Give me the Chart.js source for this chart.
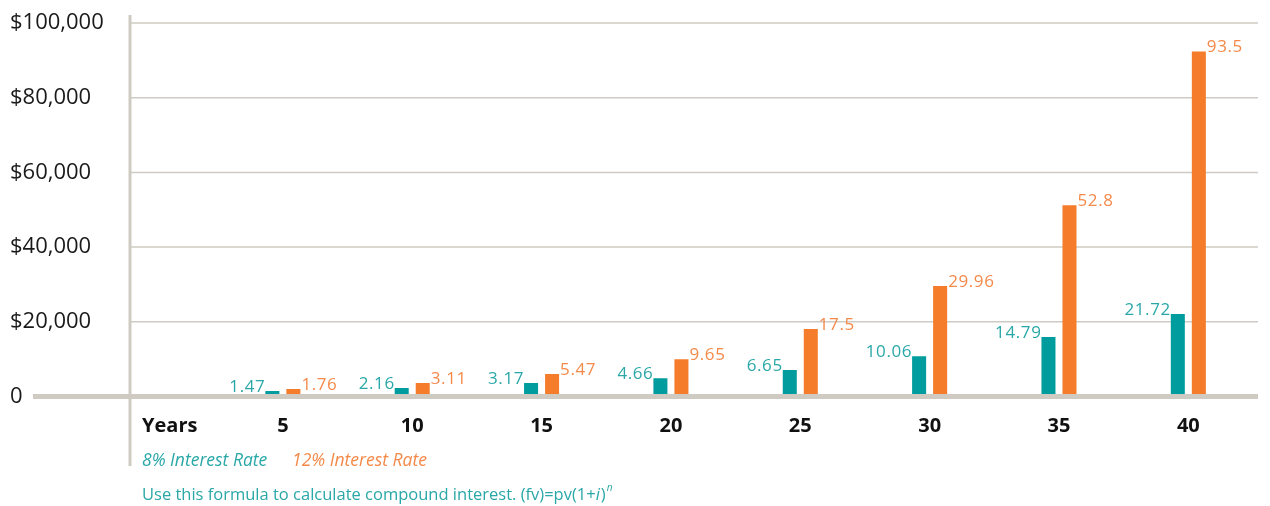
<!DOCTYPE html>
<html>
<head>
<meta charset="utf-8">
<script src="https://cdn.jsdelivr.net/npm/chart.js@4.4.0/dist/chart.umd.min.js"></script>
<style>
  html, body { margin: 0; padding: 0; background: #ffffff; }
  #wrap { width: 1270px; height: 506px; position: relative; }
</style>
</head>
<body>
<div id="wrap"><canvas id="c" width="1270" height="506"></canvas></div>
<script>
// ---- data ----
const categories = ["5", "10", "15", "20", "25", "30", "35", "40"];
const rate8Values = [1500, 2300, 3600, 4900, 7100, 10800, 15900, 22100];
const rate12Values = [2000, 3600, 6000, 10000, 18100, 29600, 51200, 92400];
const rate8Labels = ["1.47", "2.16", "3.17", "4.66", "6.65", "10.06", "14.79", "21.72"];
const rate12Labels = ["1.76", "3.11", "5.47", "9.65", "17.5", "29.96", "52.8", "93.5"];
const yTicks = [0, 20000, 40000, 60000, 80000, 100000];
const axisTitle = "Years";
const legendNames = ["8% Interest Rate", "12% Interest Rate"];
const footerText = "Use this formula to calculate compound interest. (fv)=pv(1+";

const TEAL = "#009c9e";
const ORANGE = "#f47c2b";
const TEAL_TXT = "#2aa7a7";
const ORANGE_TXT = "#f48a4a";
const GRID = "#cfcbc3";
const FONT = "'Open Sans', 'Noto Sans', sans-serif";

const decorPlugin = {
  id: 'decor',
  beforeDatasetsDraw(chart) {
    const ctx = chart.ctx;
    const y = chart.scales.y;
    ctx.save();
    yTicks.forEach(v => {
      if (v === 0) return;
      const py = y.getPixelForValue(v);
      ctx.strokeStyle = GRID;
      ctx.lineWidth = 1.5;
      ctx.beginPath();
      ctx.moveTo(131, py);
      ctx.lineTo(1258, py);
      ctx.stroke();
    });
    ctx.strokeStyle = GRID;
    ctx.lineWidth = 3;
    ctx.beginPath();
    ctx.moveTo(130, 15);
    ctx.lineTo(130, 466);
    ctx.stroke();
    ctx.restore();
  },
  afterDatasetsDraw(chart) {
    const ctx = chart.ctx;
    const y = chart.scales.y;
    ctx.save();
    const py0 = y.getPixelForValue(0);
    ctx.strokeStyle = GRID;
    ctx.lineWidth = 5;
    ctx.beginPath();
    ctx.moveTo(33, py0);
    ctx.lineTo(1258, py0);
    ctx.stroke();

    // value labels
    ctx.font = "17px " + FONT;
    if ('letterSpacing' in ctx) ctx.letterSpacing = "0.6px";
    ctx.textBaseline = "alphabetic";
    const m0 = chart.getDatasetMeta(0);
    const m1 = chart.getDatasetMeta(1);
    m0.data.forEach((el, i) => {
      ctx.fillStyle = TEAL_TXT;
      ctx.textAlign = "right";
      ctx.fillText(rate8Labels[i], el.x - el.width / 2, el.y + 1);
    });
    m1.data.forEach((el, i) => {
      ctx.fillStyle = ORANGE_TXT;
      ctx.textAlign = "left";
      ctx.fillText(rate12Labels[i], el.x + el.width / 2 + 1, el.y + 1);
    });
    if ('letterSpacing' in ctx) ctx.letterSpacing = "0px";

    // axis title
    ctx.fillStyle = "#111111";
    ctx.font = "bold 20px " + FONT;
    ctx.textAlign = "left";
    ctx.textBaseline = "middle";
    ctx.fillText(axisTitle, 142, 426);

    // legend
    ctx.font = "italic 17.5px " + FONT;
    ctx.fillStyle = TEAL_TXT;
    ctx.fillText(legendNames[0], 142, 461);
    ctx.fillStyle = ORANGE_TXT;
    ctx.fillText(legendNames[1], 292, 461);

    // footer
    ctx.font = "16.5px " + FONT;
    ctx.fillStyle = TEAL_TXT;
    let x = 142;
    const fy = 495;
    ctx.fillText(footerText, x, fy);
    x += ctx.measureText(footerText).width;
    ctx.font = "italic 16.5px " + FONT;
    ctx.fillText("i", x, fy);
    x += ctx.measureText("i").width + 1;
    ctx.font = "16.5px " + FONT;
    ctx.fillText(")", x, fy);
    x += ctx.measureText(")").width + 1;
    ctx.font = "italic 10px " + FONT;
    ctx.fillText("n", x, fy - 7);
    ctx.restore();
  }
};

new Chart(document.getElementById('c'), {
  type: 'bar',
  data: {
    labels: categories,
    datasets: [
      { label: legendNames[0], data: rate8Values, backgroundColor: TEAL, borderWidth: 0,
        categoryPercentage: 0.325, barPercentage: 0.667 },
      { label: legendNames[1], data: rate12Values, backgroundColor: ORANGE, borderWidth: 0,
        categoryPercentage: 0.325, barPercentage: 0.667 }
    ]
  },
  options: {
    responsive: false,
    animation: false,
    layout: { padding: { left: 10, right: 17, top: 23, bottom: 0 } },
    plugins: { legend: { display: false }, tooltip: { enabled: false } },
    scales: {
      x: {
        grid: { display: false, drawTicks: false },
        border: { display: false },
        ticks: { color: "#111111", font: { family: FONT, size: 20, weight: 'bold' }, padding: 18, maxRotation: 0 },
        afterFit(scale) { scale.height = 109.5; }
      },
      y: {
        min: 0, max: 100000,
        afterBuildTicks(scale) { scale.ticks = yTicks.map(v => ({ value: v })); },
        grid: { display: false, drawTicks: false },
        border: { display: false },
        ticks: {
          crossAlign: 'far',
          color: "#1a1a1a",
          font: { family: FONT, size: 22 },
          callback(v) { return v === 0 ? "0" : "$" + v.toLocaleString('en-US'); }
        },
        afterFit(scale) { scale.width = 208.2; }
      }
    }
  },
  plugins: [decorPlugin]
});
</script>
</body>
</html>
